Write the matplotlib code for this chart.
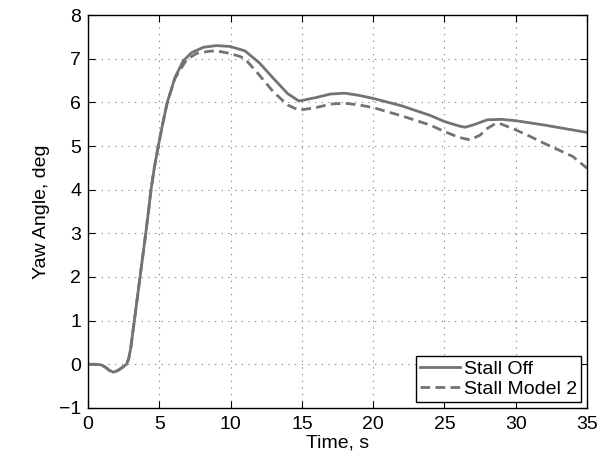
import matplotlib
matplotlib.use("Agg")
import matplotlib.pyplot as plt

plt.rcParams['font.family'] = ['Liberation Sans', 'DejaVu Sans']

# Stall Off (solid)
t_off = [0, 0.5, 0.9, 1.2, 1.5, 1.78, 2.1, 2.5, 2.7, 2.85, 3.0, 3.12, 3.25, 3.45, 3.65, 3.85,
         4.05, 4.24, 4.42, 4.65, 4.93, 5.2, 5.56, 6.1, 6.68, 7.27, 8.09, 9.0, 9.96,
         11, 12, 13, 14, 14.8, 16, 17, 18, 19, 20, 22, 24, 25, 26, 26.44, 27, 28,
         29, 30, 32, 35]
y_off = [0, 0, -0.01, -0.06, -0.14, -0.18, -0.14, -0.05, 0.0, 0.12, 0.38, 0.68, 1.0, 1.5, 2.0, 2.5,
         3.0, 3.5, 4.0, 4.5, 5.0, 5.45, 6.0, 6.57, 6.95, 7.14, 7.26, 7.3, 7.28,
         7.18, 6.91, 6.55, 6.2, 6.03, 6.11, 6.19, 6.21, 6.16, 6.09, 5.92, 5.7, 5.56, 5.46, 5.43, 5.48, 5.6,
         5.61, 5.58, 5.48, 5.31]

# Stall Model 2 (dashed)
t_m2 = [0, 0.5, 0.9, 1.2, 1.5, 1.78, 2.1, 2.5, 2.7, 2.85, 3.0, 3.12, 3.25, 3.45, 3.65, 3.85,
        4.05, 4.24, 4.42, 4.65, 4.93, 5.2, 5.56, 6.1, 6.92, 7.62, 8.5, 9.0, 9.96,
        10.66, 11, 12, 13, 14, 14.8, 16, 17, 18, 19, 20, 22, 24, 25, 26, 26.8, 27.5,
        28, 28.6, 29, 30, 31, 32, 33, 34, 35]
y_m2 = [0, 0, -0.01, -0.06, -0.14, -0.18, -0.14, -0.05, 0.0, 0.12, 0.38, 0.68, 1.0, 1.5, 2.0, 2.5,
        3.0, 3.5, 4.0, 4.5, 5.0, 5.45, 6.0, 6.55, 6.98, 7.12, 7.17, 7.18, 7.12,
        7.05, 7.0, 6.63, 6.24, 5.94, 5.82, 5.88, 5.96, 5.98, 5.94, 5.88, 5.69, 5.48, 5.33, 5.2, 5.14, 5.25,
        5.4, 5.52, 5.5, 5.37, 5.22, 5.06, 4.91, 4.76, 4.49]

xticks = list(range(0, 36, 5))
yticks = list(range(-1, 9))

fig = plt.figure(figsize=(6.09, 4.62), dpi=100)
ax = fig.add_axes([0.1445, 0.1169, 0.8195, 0.8506])

line_color = '#737373'
ax.plot(t_off, y_off, color=line_color, lw=2.0, label='Stall Off')
ax.plot(t_m2, y_m2, color=line_color, lw=2.0, ls=(0, (3.5, 1.9)), label='Stall Model 2')

ax.set_xlim(0, 35)
ax.set_ylim(-1, 8)
ax.set_xticks(xticks)
ax.set_yticks(yticks)
ax.set_yticklabels(['\u22121' if v == -1 else str(v) for v in yticks])
ax.tick_params(direction='in', top=True, right=True, labelsize=14, length=5, width=0.8)
ax.tick_params(axis='x', pad=6)
ax.tick_params(axis='y', pad=5)
ax.grid(True, ls=(0, (1, 5)), color='#777777', lw=0.8)
for sp in ax.spines.values():
    sp.set_linewidth(1.0)

ax.set_xlabel('Time, s', fontsize=14, labelpad=1)
ax.set_ylabel('Yaw Angle, deg', fontsize=14, labelpad=6)

leg = ax.legend(loc='lower right', fontsize=14, fancybox=False, framealpha=1,
                edgecolor='black', borderaxespad=0.3, handlelength=2.05,
                handletextpad=0.22, borderpad=0.2, labelspacing=0.15)
leg.get_frame().set_linewidth(1.0)

fig.savefig('out.png', dpi=100)
